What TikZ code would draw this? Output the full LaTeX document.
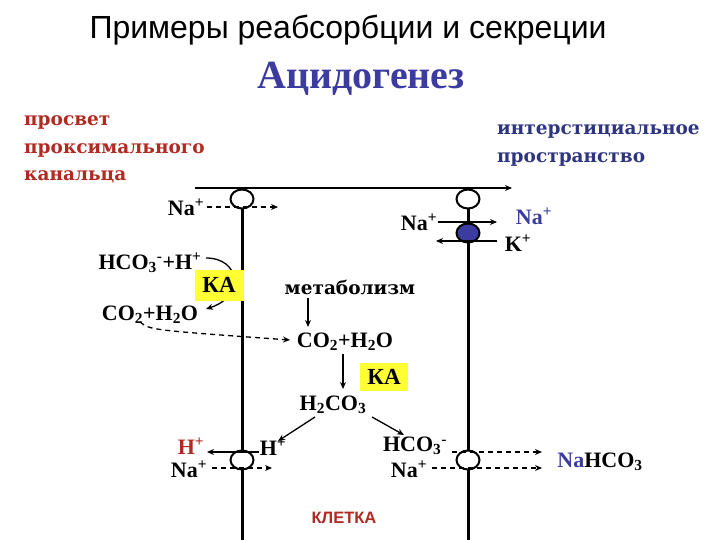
\documentclass[tikz,border=0pt]{standalone}
\usepackage{fontspec}
\setmainfont{Liberation Serif}
\newfontfamily\sansf{Liberation Sans}
\newfontfamily\wideserif{DejaVu Serif}
\usetikzlibrary{shapes.geometric,arrows.meta}
\definecolor{dred}{HTML}{B02A22}
\definecolor{dblue}{HTML}{3C3CA0}
\definecolor{nblue}{HTML}{2E3580}
\definecolor{kayel}{HTML}{FFFF33}
\newcommand\chup[1]{\textsuperscript{#1}}
\newcommand\chdn[1]{\textsubscript{#1}}
\begin{document}
\begin{tikzpicture}[x=1pt,y=-1pt,
  chem/.style={font=\fontsize{22}{24}\selectfont\bfseries, inner sep=0pt},
  memb/.style={line width=3pt},
  chan/.style={ellipse, draw, line width=2pt, fill=white, minimum width=23pt, minimum height=19pt, inner sep=0pt},
  pump/.style={chan, fill=dblue},
  arr/.style={line width=1.3pt, -{Stealth[length=7pt,width=6pt]}},
  darr/.style={arr, dashed, dash pattern=on 5pt off 4pt},
  kabox/.style={fill=kayel, font=\fontsize{23}{24}\selectfont\bfseries, inner sep=0pt, minimum width=49pt, minimum height=31pt},
  redlbl/.style={font=\wideserif\fontsize{18.5}{28}\selectfont\bfseries, text=dred, anchor=west, inner sep=0pt},
  bluelbl/.style={font=\wideserif\fontsize{18.5}{28}\selectfont\bfseries, text=nblue, anchor=west, inner sep=0pt}]
\useasboundingbox (0,0) rectangle (720,540);
% titles
\node[font=\sansf\fontsize{32}{36}\selectfont, inner sep=0pt] (title) at (348,30) {Примеры реабсорбции и секреции};
\node[font=\fontsize{40}{44}\selectfont\bfseries, text=dblue, inner sep=0pt] (acid) at (361,79) {Ацидогенез};
\node[redlbl] (l1) at (24,122) {просвет};
\node[redlbl] (l2) at (24,150) {проксимального};
\node[redlbl] (l3) at (24,177) {канальца};
\node[bluelbl] (r1) at (497,131) {интерстициальное};
\node[bluelbl] (r2) at (497,159) {пространство};
\node[font=\sansf\fontsize{16.5}{18}\selectfont\bfseries, text=dred, inner sep=0pt] (cell) at (344,518) {КЛЕТКА};
% membranes
\coordinate (mlt) at (242,190); \coordinate (mlb) at (242,540);
\coordinate (mrt) at (468,190); \coordinate (mrb) at (468,540);
\draw[memb] (mlt) -- (mlb);
\draw[memb] (mrt) -- (mrb);
% top flow arrow
\coordinate (ta) at (195,188); \coordinate (tb) at (512,188);
\draw[arr] (ta) -- (tb);
% channels
\node[chan] (c1) at (242,199) {};
\node[chan] (c2) at (468,199) {};
\node[pump] (p1) at (468,233) {};
\node[chan] (c3) at (242,460) {};
\node[chan] (c4) at (468,460) {};
% top left Na
\node[chem] (na1) at (186,207) {Na\chup{+}};
\coordinate (na1s) at (207,207); \coordinate (na1e) at (278,207);
\draw[darr] (na1s) -- (na1e);
% pump
\node[chem] (na2) at (419,222) {Na\chup{+}};
\node[chem, text=dblue] (na3) at (534,216) {Na\chup{+}};
\node[chem] (k1) at (518,243) {K\chup{+}};
\coordinate (na2s) at (438,222); \coordinate (na2e) at (497,222);
\draw[arr] (na2s) -- (na2e);
\coordinate (k1s) at (497,241); \coordinate (k1e) at (436,241);
\draw[arr] (k1s) -- (k1e);
% left reactions
\node[chem] (hco) at (150,263) {HCO\chdn{3}\chup{-}+H\chup{+}};
\node[chem] (co2a) at (150,315) {CO\chdn{2}+H\chdn{2}O};
\coordinate (hcoe) at (206,258);
\coordinate (co2ae) at (206,309);
\draw[arr] (hcoe) .. controls (240,258) and (246,296) .. (co2ae);
\node[kabox] (ka1) at (219,285) {КА};
\coordinate (dstart) at (140,322);
\coordinate (dcurve) at (290,340);
\draw[darr] (dstart) .. controls (150,330) .. (dcurve);
% metabolism
\node[font=\wideserif\fontsize{18.5}{22}\selectfont\bfseries, inner sep=0pt] (met) at (350,287) {метаболизм};
\node[chem] (co2b) at (345,342) {CO\chdn{2}+H\chdn{2}O};
\coordinate (m1) at (308,298); \coordinate (m2) at (308,327);
\draw[arr] (m1) -- (m2);
\node[chem] (h2co3) at (333,405) {H\chdn{2}CO\chdn{3}};
\coordinate (c1s) at (343,354); \coordinate (c1e) at (343,389);
\draw[arr] (c1s) -- (c1e);
\node[kabox, minimum width=48pt, minimum height=28pt] (ka2) at (384,377) {КА};
% split
\coordinate (s1) at (315,417); \coordinate (s1e) at (278,441);
\coordinate (s2) at (372,417); \coordinate (s2e) at (404,435);
\draw[arr] (s1) -- (s1e);
\draw[arr] (s2) -- (s2e);
% bottom left exchanger
\node[chem, text=dred] (hred) at (191,446) {H\chup{+}};
\node[chem] (hblk) at (273,447) {H\chup{+}};
\node[chem] (na4) at (189,469) {Na\chup{+}};
\coordinate (hs) at (259,452); \coordinate (he) at (207,452);
\draw[arr] (hs) -- (he);
\coordinate (na4s) at (212,468); \coordinate (na4e) at (272,468);
\draw[darr] (na4s) -- (na4e);
% bottom right
\node[chem] (hco3b) at (415,446) {HCO\chdn{3}\chup{-}};
\node[chem] (na5) at (409,469) {Na\chup{+}};
\node[chem] (nahco3) at (600,462) {\textcolor{dblue}{Na}HCO\chdn{3}};
\coordinate (b1s) at (452,452); \coordinate (b1e) at (542,452);
\coordinate (b2s) at (432,468); \coordinate (b2e) at (542,468);
\draw[darr] (b1s) -- (b1e);
\draw[darr] (b2s) -- (b2e);
\end{tikzpicture}
\end{document}
